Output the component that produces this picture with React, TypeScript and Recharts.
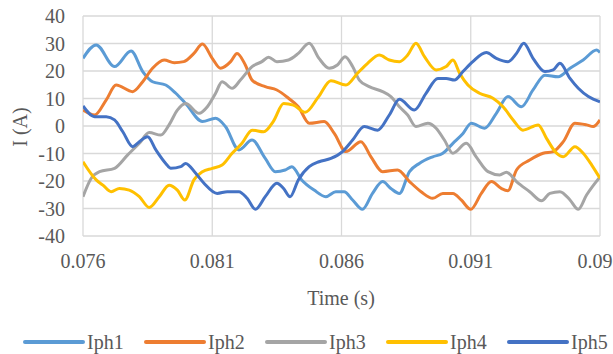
import { CartesianGrid, Line, LineChart, XAxis, YAxis } from "recharts";

// phase currents, time in seconds / current in amps
const iph1T = [0.076, 0.07651, 0.07722, 0.07786, 0.07831, 0.07869, 0.0792, 0.07959, 0.07997, 0.08062, 0.08113, 0.08151, 0.08203, 0.08254, 0.08305, 0.08344, 0.08382, 0.08408, 0.08446, 0.08494, 0.08539, 0.08578, 0.0861, 0.08643, 0.08681, 0.0872, 0.08759, 0.08791, 0.08824, 0.08863, 0.08901, 0.08953, 0.08992, 0.09031, 0.0907, 0.09102, 0.09154, 0.09199, 0.09244, 0.09296, 0.09341, 0.09387, 0.09438, 0.09484, 0.09535, 0.09587, 0.096];
const iph1 = [24.6, 29.5, 21.6, 27.3, 19.8, 16.1, 14.9, 11.9, 8.2, 1.6, 2.8, -0.2, -8.7, -5.1, -11.8, -16.6, -16, -14.8, -19.6, -23.3, -25.7, -23.9, -23.9, -26.9, -30.3, -24.5, -20.2, -22.7, -24.5, -16.6, -13.6, -11.2, -9.9, -6.3, -2.7, 1.0, -0.8, 4.6, 10.7, 7.0, 13.1, 18.5, 17.9, 21.0, 24.0, 27.6, 26.7];

const iph2T = [0.076, 0.07645, 0.0769, 0.07728, 0.07792, 0.07831, 0.07869, 0.07914, 0.07953, 0.0799, 0.08029, 0.08062, 0.081, 0.08132, 0.08171, 0.08196, 0.08228, 0.08254, 0.08305, 0.0835, 0.08395, 0.08433, 0.08475, 0.08533, 0.08572, 0.08617, 0.08675, 0.08714, 0.08759, 0.08817, 0.08863, 0.08908, 0.08953, 0.08992, 0.09031, 0.09063, 0.091, 0.09141, 0.0918, 0.09218, 0.09244, 0.09277, 0.09328, 0.0938, 0.09419, 0.09458, 0.09503, 0.09548, 0.09574, 0.096];
const iph2 = [5.8, 4.0, 9.5, 14.9, 12.5, 16.1, 21.0, 24.0, 23.0, 23.4, 26.4, 29.8, 24.6, 21.0, 23.4, 26.4, 22.2, 16.7, 14.3, 13.1, 10.1, 7.0, 1.0, 1.6, -2.7, -9.3, -5.7, -11.2, -16.6, -16.0, -20.2, -23.9, -26.3, -24.5, -24.5, -26.9, -30.3, -24.5, -20.2, -22.7, -23.5, -16.0, -12.4, -9.9, -9.3, -5.7, 1.0, 0.4, -0.2, 2.2];

const iph3T = [0.076, 0.07632, 0.07664, 0.07722, 0.07773, 0.07818, 0.07856, 0.07901, 0.07933, 0.07965, 0.07997, 0.08049, 0.08081, 0.08113, 0.08138, 0.08177, 0.08209, 0.08254, 0.08292, 0.08318, 0.0835, 0.08395, 0.08433, 0.08475, 0.08513, 0.08552, 0.08584, 0.08614, 0.08643, 0.08669, 0.08707, 0.08759, 0.08791, 0.08824, 0.08856, 0.08888, 0.08934, 0.08966, 0.08998, 0.09031, 0.09083, 0.09121, 0.09167, 0.09212, 0.09238, 0.09277, 0.09328, 0.09374, 0.09406, 0.09445, 0.09484, 0.09516, 0.09548, 0.096];
const iph3 = [-25.7, -19.0, -16.6, -15.4, -10.5, -6.3, -2.4, -3.3, 0.4, 5.8, 8.2, 4.6, 7.0, 11.9, 16.1, 13.7, 16.7, 21.6, 23.4, 25.0, 23.4, 24.0, 26.4, 30.1, 24.6, 21.0, 22.2, 25.2, 21.6, 16.7, 14.3, 12.5, 10.7, 7.0, 4.0, -0.2, 1.0, -0.8, -5.1, -9.9, -6.3, -11.2, -16.6, -17.8, -16.8, -20.2, -23.9, -27.2, -24.5, -23.9, -26.9, -30.3, -25.1, -18.5];

const iph4T = [0.076, 0.07651, 0.07677, 0.07709, 0.07741, 0.07779, 0.07818, 0.07856, 0.07895, 0.07933, 0.07965, 0.07994, 0.08029, 0.08062, 0.081, 0.08138, 0.08177, 0.08215, 0.08254, 0.08299, 0.08337, 0.08376, 0.08414, 0.0846, 0.0851, 0.08559, 0.08617, 0.08662, 0.08701, 0.08746, 0.08785, 0.08824, 0.08856, 0.08888, 0.08921, 0.08966, 0.09005, 0.09031, 0.09057, 0.09089, 0.09134, 0.09186, 0.09225, 0.09264, 0.09302, 0.09361, 0.09393, 0.09432, 0.09458, 0.09503, 0.09535, 0.09568, 0.096];
const iph4 = [-13.0, -19.6, -21.5, -23.9, -22.7, -23.3, -25.7, -29.6, -25.7, -21.5, -23.3, -26.9, -19.6, -16.6, -15.4, -14.2, -9.9, -6.3, -1.5, -2.1, 1.8, 8.2, 7.6, 5.0, 10.5, 16.5, 14.9, 19.2, 22.8, 25.8, 24.0, 23.4, 25.8, 30.1, 25.2, 20.4, 21.6, 24.0, 19.2, 14.9, 11.9, 10.1, 7.0, 2.2, -1.5, 0.4, -4.5, -9.9, -11.2, -7.5, -9.9, -14.2, -19.0];

const iph5T = [0.076, 0.07645, 0.0769, 0.07722, 0.07754, 0.07792, 0.07818, 0.0785, 0.07882, 0.0792, 0.0794, 0.07978, 0.07997, 0.08036, 0.08068, 0.08119, 0.08158, 0.08203, 0.08235, 0.08267, 0.08305, 0.0835, 0.08376, 0.08401, 0.08433, 0.08475, 0.08513, 0.08559, 0.08604, 0.08643, 0.08688, 0.0874, 0.08785, 0.08824, 0.08882, 0.08927, 0.08973, 0.09005, 0.09037, 0.0907, 0.09108, 0.0916, 0.09199, 0.09244, 0.09277, 0.09305, 0.09341, 0.09387, 0.09419, 0.09445, 0.09484, 0.09516, 0.09555, 0.096];
const iph5 = [7.3, 3.4, 3.4, 2.2, -2.1, -7.5, -5.7, -3.9, -8.7, -13.6, -15.4, -14.8, -13.6, -17.2, -20.8, -24.5, -23.9, -23.9, -26.3, -30.3, -25.7, -20.8, -22.7, -25.7, -19.6, -14.8, -13.0, -11.8, -9.3, -5.1, -0.2, -1.5, 4.0, 9.7, 5.8, 11.9, 17.3, 17.3, 16.7, 19.8, 23.4, 26.7, 24.6, 23.4, 26.4, 30.1, 24.6, 19.8, 20.4, 22.8, 17.3, 13.7, 10.7, 8.8];

const timeTicks = [0.076, 0.081, 0.086, 0.091, 0.096];
const currentTicks = [-40, -30, -20, -10, 0, 10, 20, 30, 40];

const FONT = "'Liberation Serif', 'Times New Roman', serif";
const TEXT = "#595959";

const toPoints = (times: number[], values: number[]) =>
  times.map((t, i) => ({ t, i: values[i] }));

const series = [
  { name: "Iph1", color: "#5B9BD5", data: toPoints(iph1T, iph1) },
  { name: "Iph2", color: "#ED7D31", data: toPoints(iph2T, iph2) },
  { name: "Iph3", color: "#A5A5A5", data: toPoints(iph3T, iph3) },
  { name: "Iph4", color: "#FFC000", data: toPoints(iph4T, iph4) },
  { name: "Iph5", color: "#4472C4", data: toPoints(iph5T, iph5) },
];

const tickStyle = { fill: TEXT, fontSize: 20, fontFamily: FONT, style: { fontFamily: FONT } };

export default function App() {
  return (
    <div
      style={{
        position: "absolute",
        left: 0,
        top: 0,
        width: 613,
        height: 354,
        overflow: "hidden",
        background: "#fff",
        fontFamily: FONT,
      }}
    >
      <LineChart
        width={613}
        height={354}
        margin={{ top: 16, right: 13, bottom: 0, left: 0 }}
        style={{ fontFamily: FONT }}
      >
        <CartesianGrid stroke="#D9D9D9" strokeWidth={1.3} />
        {/* interval 0 keeps the last tick centred on its gridline (it gets cut at the edge) */}
        <XAxis
          type="number"
          dataKey="t"
          domain={[0.076, 0.096]}
          ticks={timeTicks}
          interval={0}
          allowDataOverflow
          height={118}
          axisLine={false}
          tickLine={false}
          tickSize={0}
          tickMargin={18}
          tickFormatter={(v) => Number(v).toFixed(3)}
          tick={tickStyle}
          label={{
            content: () => (
              <text x={341} y={305} textAnchor="middle" fill={TEXT} fontSize={20} style={{ fontFamily: FONT }}>
                Time (s)
              </text>
            ),
          }}
        />
        <YAxis
          type="number"
          domain={[-40, 40]}
          ticks={currentTicks}
          interval={0}
          width={83}
          axisLine={false}
          tickLine={false}
          tickSize={0}
          tickMargin={18}
          tick={tickStyle}
          label={{
            content: () => (
              <text
                x={20}
                y={127}
                transform="rotate(-90 20 127)"
                textAnchor="middle"
                dominantBaseline="central"
                fill={TEXT}
                fontSize={20}
                style={{ fontFamily: FONT }}
              >
                I (A)
              </text>
            ),
          }}
        />
        {series.map((s) => (
          <Line
            key={s.name}
            data={s.data}
            dataKey="i"
            name={s.name}
            type="monotone"
            stroke={s.color}
            strokeWidth={3}
            dot={false}
            activeDot={false}
            isAnimationActive={false}
          />
        ))}
      </LineChart>
      <div
        style={{
          position: "absolute",
          left: 23,
          top: 330,
          display: "flex",
          whiteSpace: "nowrap",
          color: TEXT,
          fontSize: 20,
          lineHeight: "24px",
        }}
      >
        {series.map((s) => (
          <div key={s.name} style={{ width: 121, display: "flex", alignItems: "center", flex: "none" }}>
            <svg width={64} height={24}>
              <line x1={2} y1={12} x2={60} y2={12} stroke={s.color} strokeWidth={4} strokeLinecap="round" />
            </svg>
            <span>{s.name}</span>
          </div>
        ))}
      </div>
    </div>
  );
}
